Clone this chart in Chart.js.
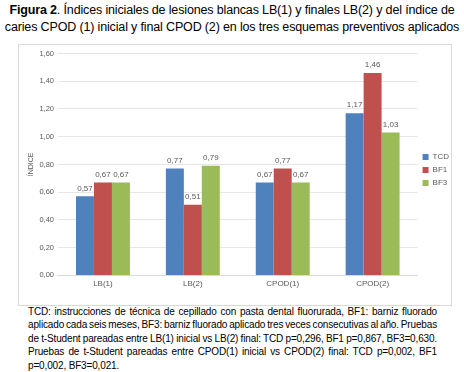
<!DOCTYPE html>
<html>
<head>
<meta charset="utf-8">
<script src="https://cdn.jsdelivr.net/npm/chart.js@4.4.1/dist/chart.umd.min.js"></script>
<style>
    body {
        margin: 0;
        width: 464px;
        height: 372px;
        background: #fff;
        font-family: "Liberation Sans", Arial, sans-serif;
        position: relative;
        overflow: hidden;
    }
    .title {
        position: absolute;
        left: 0;
        top: 2px;
        width: 464px;
        text-align: center;
        font-size: 12.5px;
        letter-spacing: -0.15px;
        line-height: 17px;
        white-space: nowrap;
        color: #000;
    }
    .box {
        position: absolute;
        left: 18px;
        top: 44px;
        width: 432px;
        height: 260px;
        border: 1px solid #d9d9d9;
    }
    .note {
        position: absolute;
        left: 28px;
        top: 305px;
        width: 409px;
        font-size: 10px;
        letter-spacing: -0.15px;
        line-height: 13.4px;
        color: #000;
    }
    .note span { white-space: nowrap; display: inline-block; }
</style>
</head>
<body>
<div class="title"><b>Figura 2</b>. Índices iniciales de lesiones blancas LB(1) y finales LB(2) y del índice de<br>caries CPOD (1) inicial y final CPOD (2) en los tres esquemas preventivos aplicados</div>
<div class="box"><canvas id="myChart" width="432" height="260"></canvas></div>
<div class="note">
    <span class="j">TCD: instrucciones de técnica de cepillado con pasta dental fluorurada, BF1: barniz fluorado</span><br>
    <span class="j">aplicado cada seis meses, BF3: barniz fluorado aplicado tres veces consecutivas al año. Pruebas</span><br>
    <span class="j">de t-Student pareadas entre LB(1) inicial vs LB(2) final: TCD p=0,296, BF1 p=0,867, BF3=0,630.</span><br>
    <span class="j">Pruebas de t-Student pareadas entre CPOD(1) inicial vs CPOD(2) final: TCD p=0,002, BF1</span><br>
    <span>p=0,002, BF3=0,021.</span>
</div>
<script>
    var categories = ["LB(1)", "LB(2)", "CPOD(1)", "CPOD(2)"];
    var tcdValues = [0.57, 0.77, 0.67, 1.17];
    var bf1Values = [0.67, 0.51, 0.77, 1.46];
    var bf3Values = [0.67, 0.79, 0.67, 1.03];
    var seriesNames = ["TCD", "BF1", "BF3"];

    var fontFamily = "'Liberation Sans', Arial, sans-serif";

    // justify the note lines by hand (spread word spacing to fill 409px)
    document.querySelectorAll(".note span.j").forEach(function (el) {
        var w = el.getBoundingClientRect().width;
        var gaps = el.textContent.split(" ").length - 1;
        el.style.wordSpacing = ((409 - w) / gaps) + "px";
    });

    // data labels above each bar, comma decimal
    var valueLabels = {
        id: "valueLabels",
        afterDatasetsDraw: function (chart) {
            var ctx = chart.ctx;
            ctx.save();
            ctx.font = "8px " + fontFamily;
            ctx.fillStyle = "#595959";
            ctx.textAlign = "center";
            ctx.textBaseline = "bottom";
            chart.data.datasets.forEach(function (ds, i) {
                chart.getDatasetMeta(i).data.forEach(function (bar, j) {
                    ctx.fillText(ds.data[j].toFixed(2).replace(".", ","), bar.x, bar.y - 4);
                });
            });
            ctx.restore();
        }
    };

    new Chart("myChart", {
        type: "bar",
        data: {
            labels: categories,
            datasets: [
                { label: seriesNames[0], data: tcdValues, backgroundColor: "#4f81bd" },
                { label: seriesNames[1], data: bf1Values, backgroundColor: "#c0504d" },
                { label: seriesNames[2], data: bf3Values, backgroundColor: "#9bbb59" }
            ]
        },
        options: {
            responsive: false,
            animation: false,
            devicePixelRatio: 1,
            layout: { padding: { top: 2, right: -8, bottom: 12, left: 8 } },
            datasets: { bar: { categoryPercentage: 0.6, barPercentage: 1.0 } },
            plugins: {
                legend: {
                    position: "right",
                    labels: {
                        boxWidth: 6,
                        boxHeight: 6,
                        padding: 5,
                        color: "#595959",
                        font: { family: fontFamily, size: 8 }
                    }
                },
                tooltip: { enabled: false }
            },
            scales: {
                x: {
                    grid: { display: false, drawTicks: false },
                    border: { color: "#d9d9d9" },
                    ticks: {
                        color: "#595959",
                        padding: 4,
                        font: { family: fontFamily, size: 8 }
                    }
                },
                y: {
                    min: 0,
                    max: 1.6,
                    grid: { color: "#e6e6e6", drawTicks: false },
                    border: { display: false },
                    ticks: {
                        stepSize: 0.2,
                        padding: 4,
                        color: "#595959",
                        font: { family: fontFamily, size: 7.5 },
                        callback: function (v) { return v.toFixed(2).replace(".", ","); }
                    },
                    title: {
                        display: true,
                        text: "ÍNDICE",
                        color: "#595959",
                        padding: 0,
                        font: { family: fontFamily, size: 7 }
                    }
                }
            }
        },
        plugins: [valueLabels]
    });
</script>
</body>
</html>
